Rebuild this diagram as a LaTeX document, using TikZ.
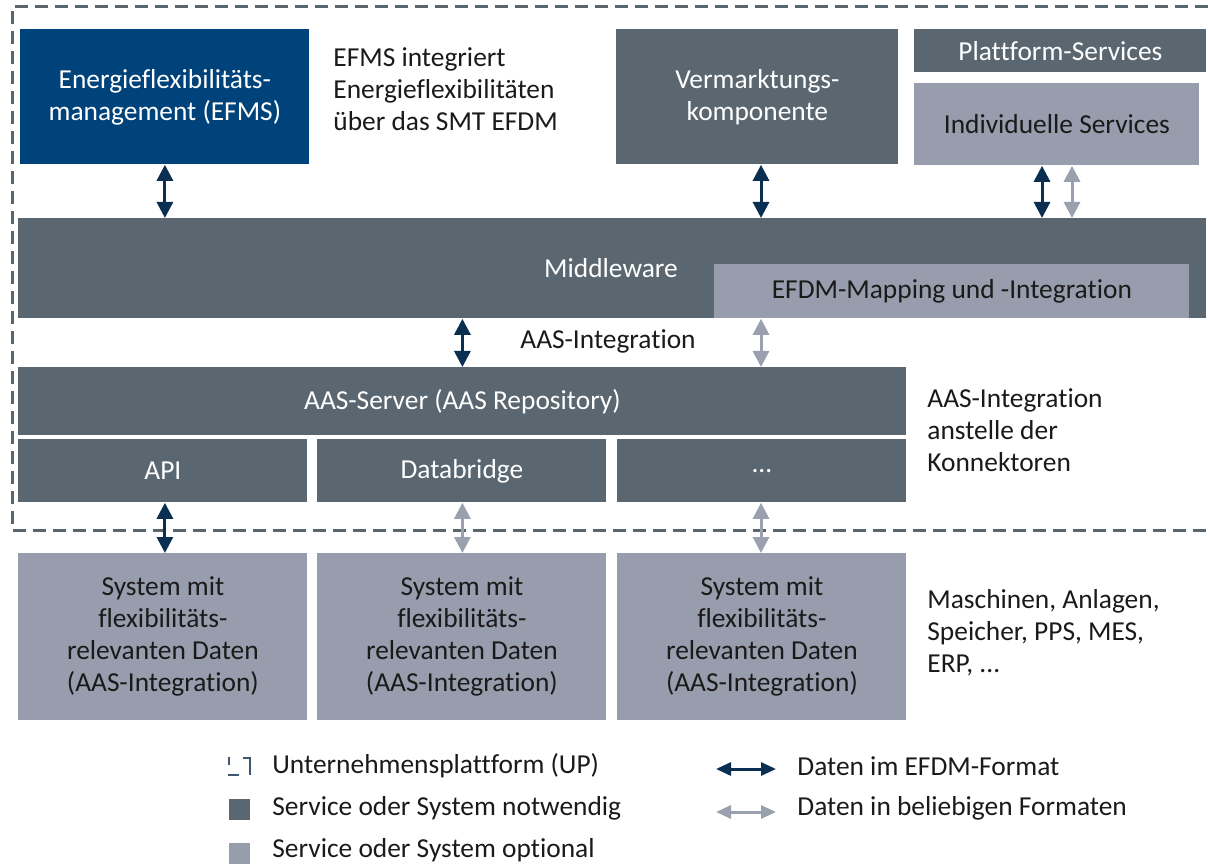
\documentclass[tikz,border=0pt]{standalone}
\usepackage{fontspec}
\setmainfont{Carlito}[Ligatures=NoCommon]
\usetikzlibrary{arrows.meta}
\definecolor{navy}{HTML}{00437A}
\definecolor{slate}{HTML}{5A6770}
\definecolor{silver}{HTML}{979DAC}
\definecolor{arrdark}{HTML}{0B2F50}
\definecolor{arrlight}{HTML}{9AA0AE}
\definecolor{txt}{HTML}{1A1A1A}
\definecolor{border}{HTML}{5A666E}
\definecolor{iconline}{HTML}{3E5670}
\newcommand\bodyfont{\fontsize{13.7}{16}\selectfont}
\tikzset{
  blk/.style={anchor=north west, inner sep=0pt, align=center, font=\bodyfont},
  req/.style={blk, fill=slate, text=white},
  opt/.style={blk, fill=silver, text=txt},
  lbl/.style={anchor=west, inner sep=0pt, align=left, font=\bodyfont, text=txt},
  darr/.style={{Triangle[width=8pt,length=8pt]}-{Triangle[width=8pt,length=8pt]}, line width=1.5pt, draw=arrdark},
  larr/.style={{Triangle[width=8pt,length=8pt]}-{Triangle[width=8pt,length=8pt]}, line width=1.5pt, draw=arrlight},
  ldarr/.style={{Triangle[width=6.5pt,length=7.5pt]}-{Triangle[width=6.5pt,length=7.5pt]}, line width=1.5pt, draw=arrdark},
  llarr/.style={{Triangle[width=6.5pt,length=7.5pt]}-{Triangle[width=6.5pt,length=7.5pt]}, line width=1.5pt, draw=arrlight},
  platform/.style={draw=border, line width=1.5pt, dash pattern=on 6.3pt off 3.7pt},
  iconstroke/.style={draw=iconline, line width=1.4pt},
}
\begin{document}
\begin{tikzpicture}[x=0.5pt, y=-0.5pt]
\useasboundingbox (0,0) rectangle (1208,865);

% company platform boundary
\draw[platform] (1208,7) -- (12,7) -- (12,530) -- (1208,530);

% upper services
\node[blk, fill=navy, text=white, minimum width=144.5pt, minimum height=67.5pt] (efms) at (20,29)
  {Energieflexibilitäts-\\management (EFMS)};
\node[lbl] (efmsnote) at (333,89) {EFMS integriert\\Energieflexibilitäten\\über das SMT EFDM};
\node[req, minimum width=141pt, minimum height=67.5pt] (verm) at (616,29) {Vermarktungs-\\komponente};
\node[req, minimum width=146pt, minimum height=21.5pt] (plat) at (914,29) {Plattform-Services};
\node[opt, minimum width=142.5pt, minimum height=41pt] (indiv) at (914,83) {Individuelle Services};

% middleware
\node[req, minimum width=594pt, minimum height=50pt] (mw) at (18,218) {};
\node[font=\bodyfont, text=white, inner sep=0pt] (mwlbl) at (611,268) {Middleware};
\node[opt, minimum width=237.5pt, minimum height=27pt] (map) at (714,264) {EFDM-Mapping und -Integration};

% AAS layer
\node[req, minimum width=444pt, minimum height=34pt] (aas) at (18,367) {AAS-Server (AAS Repository)};
\node[req, minimum width=144.5pt, minimum height=31.5pt] (api) at (18,439) {API};
\node[req, minimum width=144.5pt, minimum height=31.5pt] (db) at (317,439) {Databridge};
\node[req, minimum width=144.5pt, minimum height=31.5pt] (dots) at (617,439) {...};
\node[font=\bodyfont, text=txt, inner sep=0pt] (aasint) at (608,341) {AAS-Integration};
\node[lbl] (aasnote) at (927,430) {AAS-Integration\\anstelle der\\Konnektoren};

% source systems
\node[opt, minimum width=144.5pt, minimum height=83.5pt] (sys1) at (18,553)
  {System mit\\flexibilitäts-\\relevanten Daten\\(AAS-Integration)};
\node[opt, minimum width=144.5pt, minimum height=83.5pt] (sys2) at (317,553)
  {System mit\\flexibilitäts-\\relevanten Daten\\(AAS-Integration)};
\node[opt, minimum width=144.5pt, minimum height=83.5pt] (sys3) at (617,553)
  {System mit\\flexibilitäts-\\relevanten Daten\\(AAS-Integration)};
\node[lbl] (sysnote) at (927,633) {Maschinen, Anlagen,\\Speicher, PPS, MES,\\ERP, ...};

% data flows
\coordinate (xv) at (761,0);
\coordinate (xd) at (1042,0);
\coordinate (xl) at (1072,0);
\draw[darr] (efms.south) -- (efms.south |- mw.north);
\draw[darr] (xv |- verm.south) -- (xv |- mw.north);
\draw[darr] (xd |- indiv.south) -- (xd |- mw.north);
\draw[larr] (xl |- indiv.south) -- (xl |- mw.north);
\draw[darr] (aas.north |- mw.south) -- (aas.north);
\draw[larr] (xv |- mw.south) -- (xv |- aas.north);
\draw[darr] (api.south -| efms.south) -- (sys1.north -| efms.south);
\draw[larr] (db.south -| aas.north) -- (sys2.north -| aas.north);
\draw[larr] (xv |- dots.south) -- (xv |- sys3.north);

% legend
\draw[iconstroke] (229,757) -- (229,765);
\draw[iconstroke] (228,775) -- (239,775);
\draw[iconstroke] (243,758) -- (250,758) -- (250,775);
\node[lbl] (lg1) at (272,766) {Unternehmensplattform (UP)};
\fill[slate] (229,799) rectangle (250,820);
\node[lbl] (lg2) at (272,808) {Service oder System notwendig};
\fill[silver] (229,843) rectangle (250,864);
\node[lbl] (lg3) at (272,850) {Service oder System optional};
\coordinate (la1) at (716,769);
\coordinate (lb1) at (776,769);
\coordinate (la2) at (716,812);
\coordinate (lb2) at (776,812);
\draw[ldarr] (la1) -- (lb1);
\draw[llarr] (la2) -- (lb2);
\node[lbl] (lg4) at (797,766) {Daten im EFDM-Format};
\node[lbl] (lg5) at (797,808) {Daten in beliebigen Formaten};
\end{tikzpicture}
\end{document}
